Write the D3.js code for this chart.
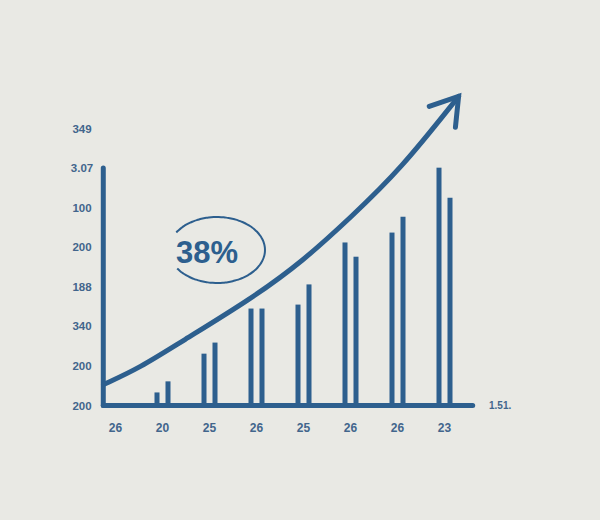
<!DOCTYPE html>
<html><head><meta charset="utf-8">
<script src="https://cdn.jsdelivr.net/npm/d3@7"></script>
<style>html,body{margin:0;padding:0;background:#e9e9e4;}svg{display:block;}</style>
</head><body>
<script>
// ---- data ----
const xLabels = ["26","20","25","26","25","26","26","23"];
const yLabels = ["200","200","340","188","200","100","3.07","349"];
const barA = [0.33, 1.31, 2.45, 2.55, 4.12, 4.37, 6.01];
const barB = [0.61, 1.59, 2.45, 3.06, 3.76, 4.77, 5.25];
const trendX = [-0.255, 0.53, 1.38, 2.87, 4.00, 5.00, 6.06, 7.30];
const trendY = [0.53, 0.96, 1.60, 2.68, 3.66, 4.75, 5.96, 7.81];
const badge = "38%";
const axisEndLabel = "1.51.";

const W = 600, H = 520, blue = "#2d5f8e", txt = "#42658c";
const svg = d3.select("body").append("svg").attr("width", W).attr("height", H);
svg.append("rect").attr("width", W).attr("height", H).attr("fill", "#e9e9e4");

const x = d3.scaleLinear().domain([0, 7]).range([115.5, 444.5]);
const y = d3.scaleLinear().domain([0, 7]).range([405.5, 128.5]);
const axisX = x(-0.26), baseY = y(0);

// y tick labels
svg.append("g").selectAll("text").data(yLabels).join("text")
  .attr("x", 82).attr("y", (d, i) => y(i)).attr("dy", "0.35em")
  .attr("text-anchor", "middle").attr("fill", txt)
  .attr("font-family", "'Liberation Sans', Arial, sans-serif").attr("font-weight", "bold")
  .attr("font-size", 11.5).text(d => d);

// x tick labels
svg.append("g").selectAll("text").data(xLabels).join("text")
  .attr("x", (d, i) => x(i)).attr("y", 428).attr("dy", "0.35em")
  .attr("text-anchor", "middle").attr("fill", txt)
  .attr("font-family", "'Liberation Sans', Arial, sans-serif").attr("font-weight", "bold")
  .attr("font-size", 12).text(d => d);

svg.append("text").attr("x", 489).attr("y", y(0)).attr("dy", "0.35em")
  .attr("fill", txt).attr("font-family", "'Liberation Sans', Arial, sans-serif")
  .attr("font-weight", "bold").attr("font-size", 10).text(axisEndLabel);

// bars
const bw = 5, off = 5.5;
const g = svg.append("g").attr("fill", blue);
g.selectAll("rect.a").data(barA).join("rect").attr("class", "a")
  .attr("x", (d, i) => x(i + 1) - off - bw / 2).attr("width", bw)
  .attr("y", d => y(d)).attr("height", d => baseY - y(d));
g.selectAll("rect.b").data(barB).join("rect").attr("class", "b")
  .attr("x", (d, i) => x(i + 1) + off - bw / 2).attr("width", bw)
  .attr("y", d => y(d)).attr("height", d => baseY - y(d));

// axes lines
svg.append("line").attr("x1", axisX).attr("x2", axisX).attr("y1", y(6.0)).attr("y2", baseY)
  .attr("stroke", blue).attr("stroke-width", 5).attr("stroke-linecap", "round");
svg.append("line").attr("x1", axisX).attr("x2", x(7.6)).attr("y1", baseY).attr("y2", baseY)
  .attr("stroke", blue).attr("stroke-width", 5).attr("stroke-linecap", "round");

// trend curve
const pts = trendX.map((v, i) => [x(v), y(trendY[i])]);
svg.append("path").attr("d", d3.line().curve(d3.curveBasis)(pts))
  .attr("fill", "none").attr("stroke", blue).attr("stroke-width", 5)
  .attr("stroke-linecap", "round");
// arrow head
const [px, py] = pts[pts.length - 2], [tx, ty] = pts[pts.length - 1];
const ang = Math.atan2(ty - py, tx - px) + Math.PI, L = 31, spread = 0.57;
const a1 = [tx + L * Math.cos(ang - spread), ty + L * Math.sin(ang - spread)];
const a2 = [tx + L * Math.cos(ang + spread), ty + L * Math.sin(ang + spread)];
svg.append("path").attr("d", d3.line()([a1, [tx, ty], a2]))
  .attr("fill", "none").attr("stroke", blue).attr("stroke-width", 5)
  .attr("stroke-linecap", "round").attr("stroke-linejoin", "miter");

// badge ellipse
const cx = 217, cy = 250, rx = 48, ry = 33;
const arcPts = d3.range(212, 509, 3).map(t => {
  const r = t * Math.PI / 180;
  return [cx + rx * Math.cos(r), cy + ry * Math.sin(r)];
});
svg.append("path").attr("d", d3.line().curve(d3.curveBasis)(arcPts))
  .attr("fill", "none").attr("stroke", blue).attr("stroke-width", 2);
svg.append("text").attr("x", 207).attr("y", 263).attr("text-anchor", "middle")
  .attr("fill", blue).attr("font-family", "'Liberation Sans', Arial, sans-serif")
  .attr("font-weight", "bold").attr("font-size", 31).text(badge);
</script>
</body></html>
